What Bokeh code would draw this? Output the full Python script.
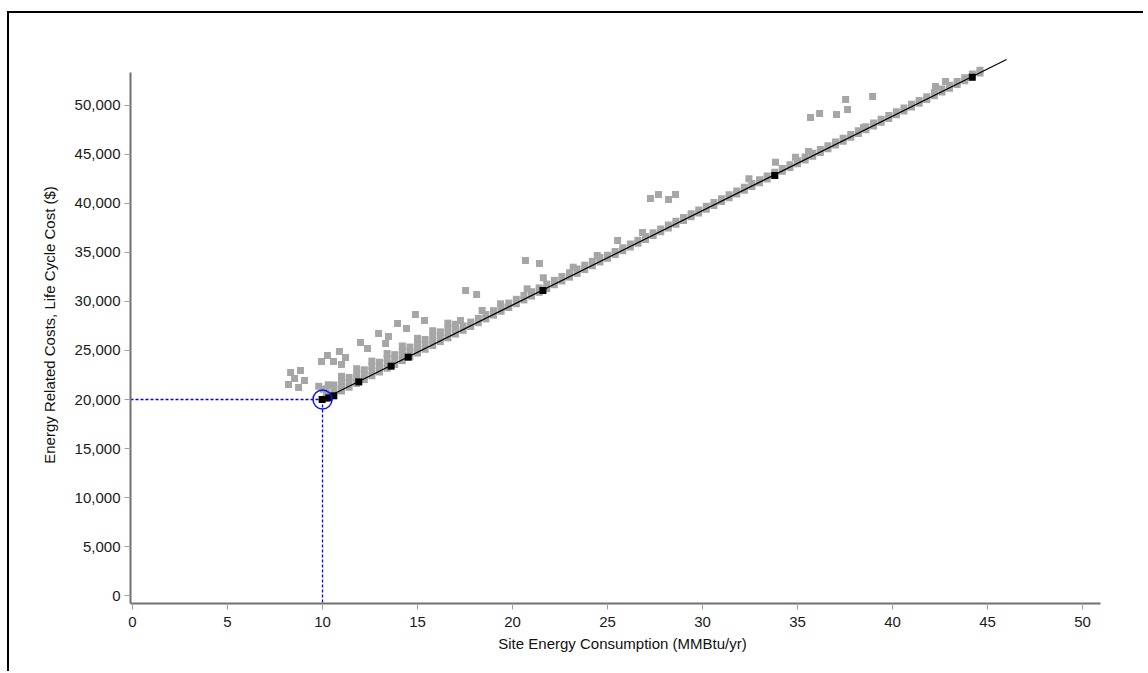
from bokeh.plotting import figure
from bokeh.models import Range1d, FixedTicker, NumeralTickFormatter
from bokeh.embed import file_html
from bokeh.resources import INLINE

# ---------------- data ----------------
x_ticks = [0, 5, 10, 15, 20, 25, 30, 35, 40, 45, 50]
y_ticks = [0, 5000, 10000, 15000, 20000, 25000, 30000, 35000, 40000, 45000, 50000]
x_axis_min, x_axis_max = -0.105, 50.95
y_axis_min, y_axis_max = -816, 53367
x_view_max = 51.68
y_view_max = 56020

# selected design (blue marker)
sel_x = 10.0
sel_y = 20000

# optimal (black) points and the frontier line
front_x = [9.98, 10.33, 10.59, 11.91, 13.61, 14.51, 21.6, 33.8, 44.19]
front_y = [20000, 20170, 20375, 21800, 23400, 24320, 31120, 42860, 52890]
line_x = [10.0, 46.0]
line_y = [20000, 54700]

# gray simulations: dense band along the frontier
band0_x = [9.8, 10.05, 10.3]
band0_y = [21350, 21050, 21500]

band1_x = [10.2, 10.6, 11.0, 11.4, 11.8, 12.2, 12.6, 13.0, 13.4, 13.8, 14.2, 14.6, 15.0, 15.4, 15.8, 16.2, 16.6, 17.0]
band1_low = [20094, 20481, 20868, 21255, 21642, 22030, 22417, 22804, 23191, 23578, 23966, 24353, 24740, 25127, 25514, 25902, 26289, 26676]
band1_mid = [20594, 20981, 21368, 21755, 22142, 22530, 22917, 23304, 23691, 24078, 24466, 24853, 25240, 25627, 26014, 26402, 26789, 27176]
band1_high = [21094, 21481, 21868, 22255, 22642, 23030, 23417, 23804, 24191, 24578, 24966, 25353, 25740, 26127, 26514, 26902, 27289, 27676]
band1_top_x = [11.0, 11.8, 12.6, 13.4, 14.2, 15.0, 15.8, 16.6]
band1_top_y = [22368, 23142, 23917, 24691, 25466, 26240, 27014, 27789]

band2_x = [17.4, 17.8, 18.2, 18.6, 19.0, 19.4, 19.8, 20.2, 20.6, 21.0, 21.4, 21.8, 22.2, 22.6, 23.0, 23.4, 23.8, 24.2, 24.6]
band2_low = [27063, 27450, 27838, 28225, 28612, 28999, 29386, 29774, 30161, 30548, 30935, 31322, 31710, 32097, 32484, 32871, 33258, 33646, 34033]
band2_high = [27513, 27900, 28288, 28675, 29062, 29449, 29836, 30224, 30611, 30998, 31385, 31772, 32160, 32547, 32934, 33321, 33708, 34096, 34483]

band3_x = [25.0, 25.4, 25.8, 26.2, 26.6, 27.0, 27.4, 27.8, 28.2, 28.6, 29.0, 29.4, 29.8, 30.2, 30.6, 31.0, 31.4, 31.8, 32.2, 32.6,
           33.0, 33.4, 33.8, 34.2, 34.6, 35.0, 35.4, 35.8, 36.2, 36.6, 37.0, 37.4, 37.8, 38.2, 38.6, 39.0, 39.4, 39.8, 40.2, 40.6,
           41.0, 41.4, 41.8, 42.2, 42.6, 43.0, 43.4, 43.8, 44.2, 44.6]
band3_low = [34410, 34796, 35181, 35567, 35952, 36338, 36724, 37109, 37495, 37880, 38266, 38652, 39037, 39423, 39808, 40194, 40580, 40965, 41351, 41736,
             42122, 42508, 42893, 43279, 43664, 44050, 44436, 44821, 45207, 45592, 45978, 46364, 46749, 47135, 47520, 47906, 48292, 48677, 49063, 49448,
             49834, 50220, 50605, 50991, 51376, 51762, 52148, 52533, 52919, 53304]
band3_high = [34710, 35096, 35481, 35867, 36252, 36638, 37024, 37409, 37795, 38180, 38566, 38952, 39337, 39723, 40108, 40494, 40880, 41265, 41651, 42036,
              42422, 42808, 43193, 43579, 43964, 44350, 44736, 45121, 45507, 45892, 46278, 46664, 47049, 47435, 47820, 48206, 48592, 48977, 49363, 49748,
              50134, 50520, 50905, 51291, 51676, 52062, 52448, 52833, 53219, 53604]

bump_x = [17.26, 18.4, 19.37, 20.77, 21.62, 23.19, 24.46, 25.53, 26.84, 32.44, 33.84, 34.89, 35.58, 38.47, 42.26, 42.79]
bump_y = [28061, 29082, 29765, 31296, 32418, 33500, 34694, 36224, 37041, 42517, 44218, 44725, 45306, 47755, 51939, 52449]

# gray simulations: scattered designs above the band
outlier_x = [8.32, 8.84, 8.53, 9.05, 8.21, 8.74,
             9.95, 10.26, 10.58, 10.89, 11.21, 11.0, 12.0, 12.37, 12.95, 13.47, 13.32, 13.95, 14.42, 14.89, 15.37,
             17.53, 18.11, 20.68, 21.42, 27.26, 27.68, 28.21, 28.58,
             35.68, 36.16, 37.05, 37.53, 37.63, 38.95]
outlier_y = [22755, 22959, 22143, 21939, 21531, 21224,
             23877, 24490, 23877, 24898, 24286, 23571, 25816, 25204, 26735, 26429, 25714, 27755, 27245, 28673, 28061,
             31122, 30714, 34184, 33878, 40510, 40918, 40408, 40918,
             48776, 49184, 49082, 50612, 49592, 50918]

gray_x = (band0_x + band1_x + band1_x + band1_x + band1_top_x + band2_x + band2_x
          + band3_x + band3_x + bump_x + outlier_x)
gray_y = (band0_y + band1_low + band1_mid + band1_high + band1_top_y + band2_low + band2_high
          + band3_low + band3_high + bump_y + outlier_y)

x_label = "Site Energy Consumption (MMBtu/yr)"
y_label = "Energy Related Costs, Life Cycle Cost ($)"

# ---------------- figure ----------------
p = figure(width=1136, height=660, output_backend="svg", toolbar_location=None,
           x_range=Range1d(x_axis_min, x_view_max), y_range=Range1d(y_axis_min, y_view_max),
           min_border_left=121, min_border_right=31, min_border_top=33, min_border_bottom=70)
p.styles = {"border-left": "2px solid black", "border-top": "2px solid black",
            "margin-top": "11px", "margin-left": "7px"}
p.xgrid.visible = False
p.ygrid.visible = False
p.outline_line_color = None
p.background_fill_color = "white"
p.border_fill_color = "white"

# selection cross-hair
p.segment(x0=[x_axis_min], y0=[sel_y], x1=[sel_x], y1=[sel_y], line_color="#0000ff", line_width=1.3, line_dash="3 2")
p.segment(x0=[sel_x], y0=[sel_y], x1=[sel_x], y1=[y_axis_min], line_color="#0000ff", line_width=1.3, line_dash="3 2")

p.scatter(gray_x, gray_y, marker="square", size=7, fill_color="#a6a6a6", line_color=None)
p.line(line_x, line_y, line_color="black", line_width=1.2)
p.scatter(front_x, front_y, marker="square", size=7, fill_color="black", line_color=None)
p.scatter([sel_x], [sel_y], marker="circle", size=19, fill_color=None, line_color="#1010ff", line_width=1.5)

p.xaxis.ticker = FixedTicker(ticks=x_ticks)
p.yaxis.ticker = FixedTicker(ticks=y_ticks)
p.yaxis.formatter = NumeralTickFormatter(format="0,0")
p.xaxis.axis_label = x_label
p.yaxis.axis_label = y_label
p.xaxis.bounds = (x_axis_min, x_axis_max)
p.yaxis.bounds = (y_axis_min, y_axis_max)

for ax in (p.xaxis[0], p.yaxis[0]):
    ax.axis_line_color = "#707070"
    ax.axis_line_width = 2
    ax.major_tick_line_color = "#a0a0a0"
    ax.major_tick_out = 6
    ax.major_tick_in = 0
    ax.minor_tick_line_color = None
    ax.major_label_text_font = "Liberation Sans"
    ax.major_label_text_font_size = "15px"
    ax.major_label_text_color = "#1a1a1a"
    ax.axis_label_text_font = "Liberation Sans"
    ax.axis_label_text_font_size = "15px"
    ax.axis_label_text_font_style = "normal"
    ax.axis_label_text_color = "#111111"

p.xaxis.major_label_standoff = 7
p.yaxis.major_label_standoff = 4
p.xaxis.axis_label_standoff = 5
p.yaxis.axis_label_standoff = 14

open("out.html", "w").write(file_html(p, INLINE))
